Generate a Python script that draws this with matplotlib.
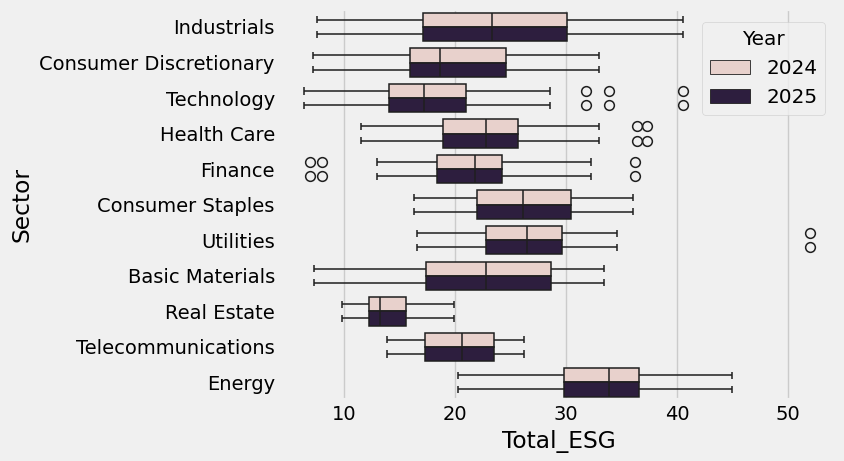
import matplotlib
matplotlib.use("Agg")
import matplotlib.pyplot as plt
from matplotlib.patches import Patch
import numpy as np

plt.style.use("fivethirtyeight")

# box statistics (same for both years)
sectors = ["Industrials", "Consumer Discretionary", "Technology", "Health Care",
           "Finance", "Consumer Staples", "Utilities", "Basic Materials",
           "Real Estate", "Telecommunications", "Energy"]
whislo = [7.6, 7.2, 6.4, 11.5, 13.0, 16.3, 16.6, 7.3, 9.8, 13.9, 20.3]
q1 = [17.1, 15.9, 14.0, 18.9, 18.4, 22.0, 22.8, 17.4, 12.2, 17.3, 29.8]
med = [23.3, 18.6, 17.2, 22.8, 21.8, 26.1, 26.5, 22.8, 13.2, 20.6, 33.9]
q3 = [30.1, 24.6, 21.0, 25.7, 24.2, 30.4, 29.6, 28.6, 15.6, 23.5, 36.6]
whishi = [40.5, 33.0, 28.5, 33.0, 32.2, 36.0, 34.6, 33.4, 19.9, 26.2, 44.9]
fliers = [[], [], [31.8, 33.9, 40.5], [36.4, 37.3], [6.9, 8.0, 36.2],
          [], [52.0], [], [], [], []]
years = ["2024", "2025"]
year_colors = ["#e8d1cc", "#2d1e3e"]

line_c = "#1f1f1f"

fig, ax = plt.subplots(figsize=(8.45, 4.61), dpi=100)
fig.subplots_adjust(left=0.331, right=0.992, bottom=0.132, top=0.98)

pos = np.arange(len(sectors))
for k, (yr, col) in enumerate(zip(years, year_colors)):
    stats = []
    for i in range(len(sectors)):
        stats.append(dict(whislo=whislo[i], q1=q1[i], med=med[i], q3=q3[i],
                          whishi=whishi[i], fliers=fliers[i]))
    ax.bxp(stats, positions=pos + (k - 0.5) * 0.4, widths=0.4, vert=False,
           patch_artist=True, showcaps=True,
           boxprops=dict(facecolor=col, edgecolor=line_c, linewidth=1.1),
           medianprops=dict(color=line_c, linewidth=1.1),
           whiskerprops=dict(color=line_c, linewidth=1.1),
           capprops=dict(color=line_c, linewidth=1.1),
           capwidths=0.2,
           flierprops=dict(marker="o", markerfacecolor="none",
                           markeredgecolor=line_c, markersize=7,
                           markeredgewidth=1.1))

ax.set_yticks(pos)
ax.set_yticklabels(sectors)
ax.set_ylim(len(sectors) - 0.5, -0.5)
ax.set_xlim(4.2, 54.5)
ax.set_xticks([10, 20, 30, 40, 50])
ax.set_xticklabels(["10", "20", "30", "40", "50"])
ax.grid(False, axis="y")
ax.grid(True, axis="x", color="#cbcbcb", linewidth=1)
ax.set_axisbelow(True)
ax.set_xlabel("Total_ESG")
ax.set_ylabel("Sector")
ax.tick_params(axis="both", labelsize=14, length=0)

handles = [Patch(facecolor=c, edgecolor=line_c, linewidth=0.6) for c in year_colors]
ax.legend(handles, years, title="Year", loc="upper right", fontsize=14.4,
          title_fontsize=14.4, borderaxespad=0.65)

fig.savefig("out.png", dpi=100)
